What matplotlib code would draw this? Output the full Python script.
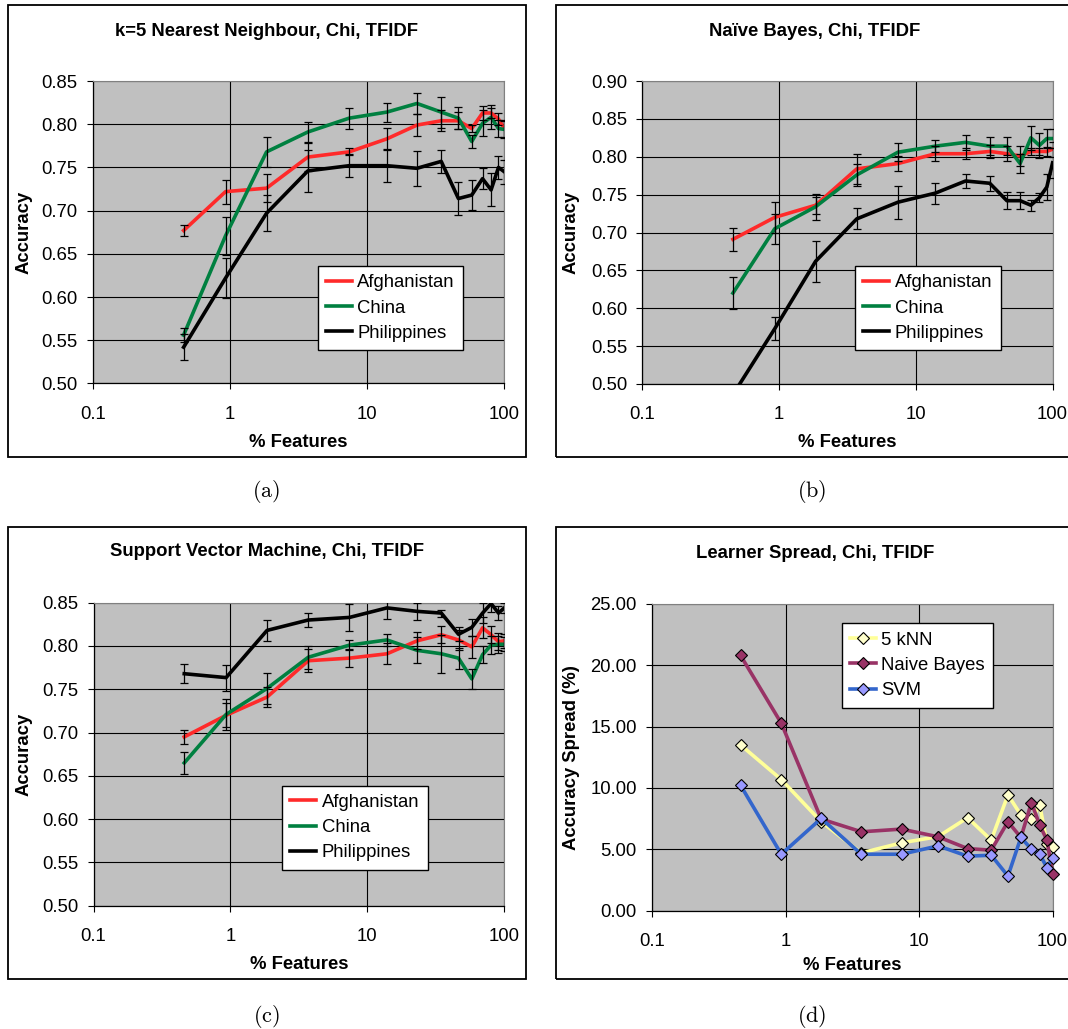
import matplotlib
matplotlib.use("Agg")
import matplotlib.pyplot as plt
from matplotlib.patches import Rectangle

plt.rcParams['font.family'] = ['Liberation Sans', 'DejaVu Sans']
plt.rcParams['mathtext.fontset'] = 'cm'

# % features used (same for every panel)
features = [0.46, 0.93, 1.85, 3.7, 7.4, 13.9, 23.1, 34.7, 46.3, 57.9, 69.4, 80.1, 90.7, 100]
xtick_vals = [0.1, 1, 10, 100]
xtick_labels = ["0.1", "1", "10", "100"]
countries = ["Afghanistan", "China", "Philippines"]

# (a) k=5 nearest neighbour
knn_afg = [0.677, 0.722, 0.726, 0.762, 0.768, 0.783, 0.799, 0.804, 0.804, 0.795, 0.813, 0.813, 0.806, 0.795]
knn_chn = [0.556, 0.671, 0.768, 0.791, 0.807, 0.814, 0.824, 0.814, 0.807, 0.780, 0.801, 0.808, 0.795, 0.794]
knn_phl = [0.542, 0.622, 0.697, 0.746, 0.752, 0.752, 0.749, 0.757, 0.714, 0.718, 0.737, 0.724, 0.750, 0.745]
knn_afg_err = [0.006, 0.014, 0.016, 0.016, 0.004, 0.013, 0.013, 0.012, 0.010, 0.004, 0.008, 0.006, 0.007, 0.010]
knn_chn_err = [0.008, 0.022, 0.017, 0.011, 0.012, 0.011, 0.012, 0.018, 0.013, 0.007, 0.015, 0.014, 0.010, 0.010]
knn_phl_err = [0.015, 0.023, 0.021, 0.024, 0.013, 0.019, 0.020, 0.013, 0.019, 0.017, 0.012, 0.019, 0.013, 0.014]

# (b) naive bayes
nb_afg = [0.691, 0.720, 0.736, 0.784, 0.791, 0.804, 0.804, 0.807, 0.804, 0.801, 0.807, 0.807, 0.807, 0.810]
nb_chn = [0.620, 0.705, 0.734, 0.776, 0.806, 0.814, 0.819, 0.814, 0.814, 0.791, 0.825, 0.815, 0.824, 0.824]
nb_phl = [0.486, 0.573, 0.662, 0.718, 0.740, 0.752, 0.768, 0.765, 0.742, 0.742, 0.736, 0.746, 0.760, 0.792]
nb_afg_err = [0.015, 0.020, 0.011, 0.020, 0.010, 0.010, 0.007, 0.009, 0.010, 0.013, 0.005, 0.005, 0.006, 0.010]
nb_chn_err = [0.021, 0.020, 0.017, 0.015, 0.012, 0.008, 0.010, 0.012, 0.012, 0.012, 0.016, 0.016, 0.012, 0.012]
nb_phl_err = [0.010, 0.015, 0.027, 0.014, 0.022, 0.014, 0.009, 0.010, 0.011, 0.011, 0.007, 0.006, 0.017, 0.020]

# (c) support vector machine
svm_afg = [0.695, 0.720, 0.741, 0.783, 0.786, 0.791, 0.806, 0.813, 0.807, 0.799, 0.821, 0.813, 0.805, 0.806]
svm_chn = [0.665, 0.721, 0.751, 0.787, 0.801, 0.807, 0.795, 0.791, 0.786, 0.762, 0.790, 0.801, 0.802, 0.802]
svm_phl = [0.768, 0.7635, 0.818, 0.830, 0.833, 0.844, 0.840, 0.838, 0.8135, 0.8215, 0.838, 0.849, 0.838, 0.844]
svm_afg_err = [0.008, 0.014, 0.012, 0.013, 0.010, 0.012, 0.010, 0.010, 0.012, 0.013, 0.012, 0.010, 0.010, 0.008]
svm_chn_err = [0.013, 0.018, 0.018, 0.013, 0.006, 0.007, 0.015, 0.022, 0.012, 0.012, 0.010, 0.010, 0.010, 0.008]
svm_phl_err = [0.011, 0.015, 0.012, 0.008, 0.016, 0.013, 0.010, 0.004, 0.008, 0.010, 0.012, 0.010, 0.008, 0.006]

# (d) learner spread (%)
spread_knn = [13.51, 10.68, 7.24, 4.70, 5.52, 6.03, 7.57, 5.74, 9.43, 7.79, 7.43, 8.60, 5.46, 5.16]
spread_nb = [20.81, 15.27, 7.46, 6.42, 6.64, 6.01, 5.05, 4.92, 7.24, 5.96, 8.80, 6.97, 5.74, 3.00]
spread_svm = [10.22, 4.59, 7.51, 4.59, 4.59, 5.27, 4.43, 4.51, 2.81, 5.96, 5.00, 4.59, 3.50, 4.27]
learners = ["5 kNN", "Naive Bayes", "SVM"]

acc_ticks = [0.50, 0.55, 0.60, 0.65, 0.70, 0.75, 0.80, 0.85]
acc_ticks_b = [0.50, 0.55, 0.60, 0.65, 0.70, 0.75, 0.80, 0.85, 0.90]
spread_ticks = [0, 5, 10, 15, 20, 25]

W, H = 1068, 1029
fig = plt.figure(figsize=(W / 100, H / 100), dpi=100)


def fx(px):
    return px / W


def fy(py):
    return 1 - py / H


def make_axes(l, t, r, b):
    return fig.add_axes([fx(l), fy(b), (r - l) / W, (b - t) / H])


# panel frames
for (l, t, r, b) in [(7.5, 5, 526, 457), (556, 5, 1090, 457), (7.5, 527, 526, 979), (556, 527, 1090, 979)]:
    fig.patches.append(Rectangle((fx(l), fy(b)), (r - l) / W, (b - t) / H, transform=fig.transFigure,
                                 fill=False, edgecolor='black', linewidth=1.3))

RED = '#ff2a2a'
GREEN = '#008040'
FS = 13.3
TFS = 13.3


def style(ax, yticks, fmt):
    ax.set_facecolor('#c0c0c0')
    ax.set_xscale('log')
    ax.set_xlim(0.1, 100)
    ax.set_ylim(yticks[0], yticks[-1])
    ax.set_xticks(xtick_vals)
    ax.set_xticklabels(xtick_labels)
    ax.minorticks_off()
    ax.set_yticks(yticks)
    ax.set_yticklabels([fmt.format(v) for v in yticks])
    ax.grid(True, color='black', linewidth=0.8)
    ax.set_axisbelow(True)
    ax.tick_params(axis='both', labelsize=FS, length=4, width=0.8, direction='out')
    ax.tick_params(axis='y', pad=7)
    ax.tick_params(axis='x', pad=12)
    for s in ['top', 'right']:
        ax.spines[s].set_color('#808080')
    for s in ['left', 'bottom']:
        ax.spines[s].set_color('black')
        ax.spines[s].set_linewidth(0.9)


def add_legend(ax, handles, xy):
    leg = ax.legend(handles=handles, loc='upper left', bbox_to_anchor=(fx(xy[0]), fy(xy[1])),
                    bbox_transform=fig.transFigure, fontsize=FS, fancybox=False, framealpha=1,
                    edgecolor='black', borderaxespad=0, borderpad=0.45, labelspacing=0.45,
                    handlelength=1.4, handletextpad=0.3)
    leg.get_frame().set_linewidth(1.0)


def acc_panel(box, title, ys, errs, yticks, title_xy, ylabel_x, xlabel_y, leg_xy):
    ax = make_axes(*box)
    style(ax, yticks, "{:.2f}")
    handles = []
    for y, c, name in zip(ys, [RED, GREEN, 'black'], countries):
        h, = ax.plot(features, y, color=c, linewidth=2.6, label=name, zorder=3,
                     solid_joinstyle='round')
        handles.append(h)
    for y, e in zip(ys, errs):
        ax.errorbar(features, y, yerr=e, fmt='none', ecolor='black', elinewidth=0.9,
                    capsize=3, capthick=0.9, zorder=4)
    fig.text(fx(title_xy[0]), fy(title_xy[1]), title, ha='center', va='center',
             fontsize=TFS, fontweight='bold')
    fig.text(fx(ylabel_x), fy((box[1] + box[3]) / 2), "Accuracy", rotation=90, ha='center',
             va='center', fontsize=FS, fontweight='bold')
    fig.text(fx((box[0] + box[2]) / 2), fy(xlabel_y), "% Features", ha='center', va='center',
             fontsize=FS, fontweight='bold')
    add_legend(ax, handles, leg_xy)
    return ax


acc_panel((92.7, 81, 504.3, 383.5), "k=5 Nearest Neighbour, Chi, TFIDF",
          [knn_afg, knn_chn, knn_phl], [knn_afg_err, knn_chn_err, knn_phl_err],
          acc_ticks, (266.7, 32), 24, 442, (317.6, 266))
acc_panel((642.3, 81, 1052.6, 384), "Naïve Bayes, Chi, TFIDF",
          [nb_afg, nb_chn, nb_phl], [nb_afg_err, nb_chn_err, nb_phl_err],
          acc_ticks_b, (815, 32), 571.5, 442, (855, 266))
acc_panel((93.5, 602.7, 504.3, 905.8), "Support Vector Machine, Chi, TFIDF",
          [svm_afg, svm_chn, svm_phl], [svm_afg_err, svm_chn_err, svm_phl_err],
          acc_ticks, (266.7, 552), 24, 964.5, (282, 785.5))

# (d) learner spread
ax = make_axes(652, 604, 1052.6, 910.5)
style(ax, spread_ticks, "{:.2f}")
handles = []
for y, lc, mc, name in zip([spread_knn, spread_nb, spread_svm],
                           ['#ffff99', '#993366', '#3366cc'],
                           ['#ffffcc', '#993366', '#9999ff'], learners):
    h, = ax.plot(features, y, color=lc, linewidth=2.6, marker='D', markersize=6.5,
                 markerfacecolor=mc, markeredgecolor='black', markeredgewidth=0.8,
                 label=name, clip_on=False, zorder=3)
    handles.append(h)
fig.text(fx(815), fy(553), "Learner Spread, Chi, TFIDF", ha='center', va='center',
         fontsize=TFS, fontweight='bold')
fig.text(fx(571.3), fy((604 + 910.5) / 2), "Accuracy Spread (%)", rotation=90, ha='center',
         va='center', fontsize=FS, fontweight='bold')
fig.text(fx(852.3), fy(965), "% Features", ha='center', va='center', fontsize=FS, fontweight='bold')
add_legend(ax, handles, (841.5, 623.3))

# sub-figure captions
for lab, (px, py) in zip(["(a)", "(b)", "(c)", "(d)"],
                         [(266, 492), (812, 492), (266, 1016), (812, 1016)]):
    fig.text(fx(px), fy(py), r"$\mathrm{" + lab + "}$", ha='center', va='center', fontsize=16)

fig.savefig("out.png", dpi=100)
